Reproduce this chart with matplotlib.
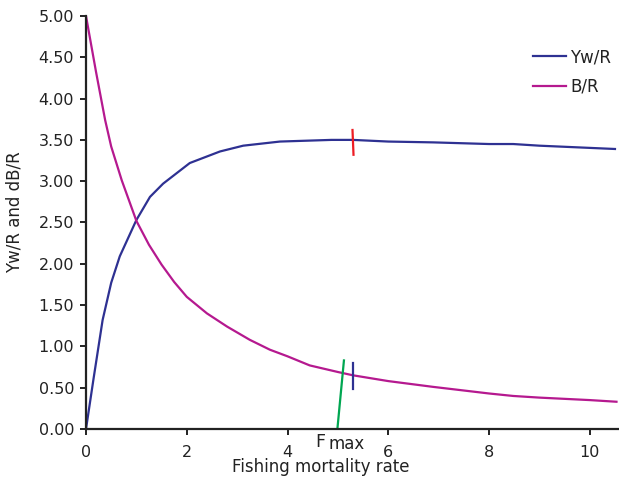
import matplotlib
matplotlib.use("Agg")
import matplotlib.pyplot as plt

plt.rcParams['font.family'] = ['DejaVu Sans']

# Data
F_yield = [0, 0.15, 0.33, 0.5, 0.67, 1.0, 1.27, 1.53, 2.06, 2.66, 3.12, 3.85, 4.87, 5.3, 6.0, 6.89, 8.0, 8.48, 9.0, 10.5]
yield_per_recruit = [0, 0.61, 1.32, 1.77, 2.09, 2.53, 2.81, 2.97, 3.22, 3.36, 3.43, 3.48, 3.50, 3.50, 3.48, 3.47, 3.45, 3.45, 3.43, 3.39]

F_biomass = [0, 0.2, 0.38, 0.5, 0.71, 1.0, 1.25, 1.5, 1.75, 2.0, 2.4, 2.8, 3.25, 3.65, 4.0, 4.44, 5.0, 5.3, 6.0, 6.89, 8.0, 8.48, 9.0, 10.0, 10.53]
biomass_per_recruit = [5.0, 4.32, 3.74, 3.42, 3.01, 2.52, 2.23, 1.99, 1.78, 1.60, 1.40, 1.24, 1.08, 0.96, 0.88, 0.77, 0.69, 0.65, 0.58, 0.51, 0.43, 0.40, 0.38, 0.35, 0.33]

x_ticks = [0, 2, 4, 6, 8, 10]
y_ticks = [0.0, 0.5, 1.0, 1.5, 2.0, 2.5, 3.0, 3.5, 4.0, 4.5, 5.0]

# Fmax marker segments (F, value)
fmax_red = ([5.29, 5.31], [3.62, 3.32])
fmax_blue = ([5.29, 5.29], [0.80, 0.49])
fmax_green = ([4.99, 5.12], [0.0, 0.83])

blue = '#2e3192'
magenta = '#b5198f'
txt = '#222222'

W, H = 619, 484
fig = plt.figure(figsize=(W/100, H/100), dpi=100)
ax = fig.add_axes([86/W, 1 - 429/H, (W-86)/W, (429-16)/H])

ax.plot(F_yield, yield_per_recruit, color=blue, lw=1.6, label='Yw/R')
ax.plot(F_biomass, biomass_per_recruit, color=magenta, lw=1.6, label='B/R')
ax.plot(*fmax_red, color='#ed1c24', lw=1.6)
ax.plot(*fmax_blue, color=blue, lw=1.6)
ax.plot(*fmax_green, color='#00a651', lw=1.6)

ax.set_xlim(0, 10.58)
ax.set_ylim(0, 5.0)
ax.set_xticks(x_ticks)
ax.set_yticks(y_ticks)
ax.set_yticklabels([f"{v:.2f}" for v in y_ticks])
for s in ['top', 'right']:
    ax.spines[s].set_visible(False)
for s in ['left', 'bottom']:
    ax.spines[s].set_linewidth(1.6)
    ax.spines[s].set_color(txt)
ax.tick_params(direction='out', length=4.5, width=1.4, labelsize=11.5, colors=txt)
ax.tick_params(axis='x', pad=7)
ax.tick_params(axis='y', pad=4)

fig.text(321/W, 1 - 472.5/H, 'Fishing mortality rate', fontsize=12, color=txt,
         ha='center', va='baseline')
fig.text(15/W, 1 - 212/H, 'Yw/R and dB/R', fontsize=12, color=txt,
         ha='center', va='center', rotation=90)

fig.text(315/W, 1 - 446.7/H, 'F', fontsize=12.5, color=txt, va='baseline', ha='left')
fig.text(329/W, 1 - 448.7/H, 'max', fontsize=12, color=txt, va='baseline', ha='left')

leg = ax.legend(loc='upper left', bbox_to_anchor=(533/W, 1 - 48/H),
                bbox_transform=fig.transFigure, frameon=False, fontsize=12,
                handlelength=2.0, labelspacing=0.7, handletextpad=0.25,
                borderpad=0, borderaxespad=0)
for t in leg.get_texts():
    t.set_color(txt)

fig.savefig('out.png', dpi=100)
